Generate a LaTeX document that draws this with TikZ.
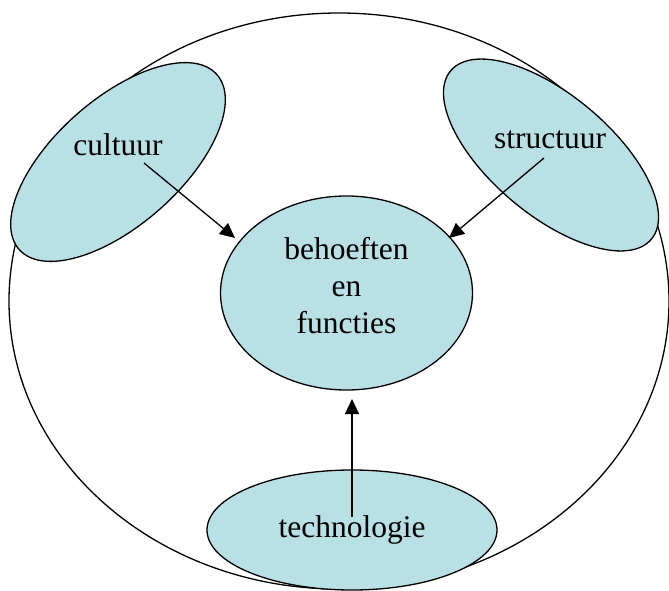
\documentclass[tikz,border=0pt]{standalone}
\usepackage{fontspec}
\setmainfont{Liberation Serif}
\usetikzlibrary{shapes.geometric,arrows.meta}
\definecolor{blobfill}{RGB}{185,224,228}
\tikzset{
  blob/.style={ellipse, draw=black, line width=1.3pt, fill=blobfill, inner sep=0pt},
  lbl/.style={font=\fontsize{31.5}{37}\selectfont, inner sep=0pt, align=center},
  arr/.style={line width=1.3pt, -{Triangle[length=15pt,width=14pt]}}
}
\begin{document}
\begin{tikzpicture}[x=1pt,y=-1pt]
\useasboundingbox (0,0) rectangle (669,591);
% outer ellipse
\node[ellipse, draw=black, line width=1.3pt, inner sep=0pt, minimum width=660pt, minimum height=576pt] (outer) at (339,301) {};
% ellipses
\node[blob, minimum width=264pt, minimum height=126pt, rotate=41.5] (cultE) at (118,162) {};
\node[blob, minimum width=262pt, minimum height=120pt, rotate=-40] (structE) at (551,155) {};
\node[blob, minimum width=290pt, minimum height=120pt] (techE) at (352,530) {};
\node[blob, minimum width=252pt, minimum height=194pt] (beh) at (346.5,293) {};
% labels
\node[lbl, anchor=base] (cult) at (118,156) {cultuur};
\node[lbl, anchor=base] (struct) at (550,148) {structuur};
\node[lbl, anchor=base] (tech) at (352,537) {technologie};
\node[lbl] (behT) at (346.5,286) {behoeften\\en\\functies};
% arrow ends
\coordinate (cultS) at (144,163);
\coordinate (cultT) at (235,238);
\coordinate (structS) at (544,158);
\coordinate (structT) at (449,238);
\coordinate (techS) at (352,517);
\coordinate (techT) at (352,399);
\draw[arr] (cultS) -- (cultT);
\draw[arr] (structS) -- (structT);
\draw[arr] (techS) -- (techT);
\end{tikzpicture}
\end{document}
